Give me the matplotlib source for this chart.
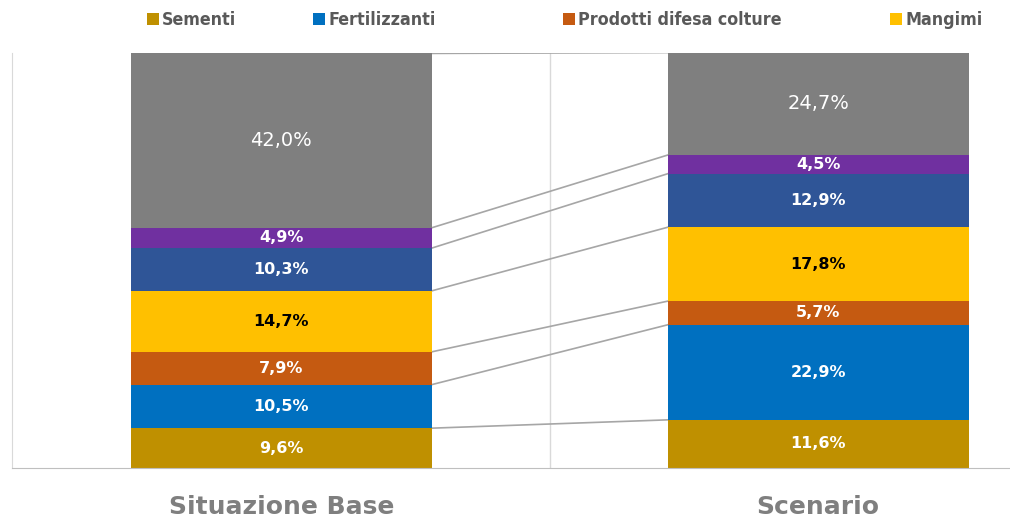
import matplotlib.pyplot as plt

plt.rcParams['font.family'] = ['DejaVu Sans']

categories = ['Situazione Base', 'Scenario']
series = ['Sementi', 'Fertilizzanti', 'Prodotti difesa colture', 'Mangimi',
          'Serie 5', 'Serie 6', 'Serie 7']
base = [9.6, 10.5, 7.9, 14.7, 10.3, 4.9, 42.0]
scenario = [11.6, 22.9, 5.7, 17.8, 12.9, 4.5, 24.7]
labels_base = ['9,6%', '10,5%', '7,9%', '14,7%', '10,3%', '4,9%', '42,0%']
labels_scen = ['11,6%', '22,9%', '5,7%', '17,8%', '12,9%', '4,5%', '24,7%']
colors = ['#BF9000', '#0070C0', '#C55A11', '#FFC000', '#2F5597', '#7030A0', '#7F7F7F']
text_colors = ['white', 'white', 'white', 'black', 'white', 'white', 'white']
legend_x = [147, 313, 563, 890]  # left edge of each visible legend entry, px

fig = plt.figure(figsize=(10.1, 5.19), dpi=100)
# plot area continues past the right edge of the picture
ax = fig.add_axes([12 / 1010, (519 - 468) / 519, 1075.5 / 1010, 415 / 519])

width = 0.561
x = [0, 1]
bottom = [0.0, 0.0]
tops = []
handles = []
for i, name in enumerate(series):
    vals = [base[i], scenario[i]]
    bars = ax.bar(x, vals, width, bottom=bottom, color=colors[i], label=name, zorder=2)
    handles.append(bars)
    for j, b in enumerate(bars):
        lab = [labels_base, labels_scen][j][i]
        big = i == len(series) - 1
        ax.text(b.get_x() + b.get_width() / 2, bottom[j] + vals[j] / 2, lab,
                ha='center', va='center', color=text_colors[i],
                fontsize=14 if big else 11.5, fontweight='normal' if big else 'bold',
                zorder=3)
    bottom = [bottom[0] + vals[0], bottom[1] + vals[1]]
    tops.append(list(bottom))

# series lines connecting the stacks
for t in tops:
    ax.plot([width / 2, 1 - width / 2], t, color='#A6A6A6', lw=1.2, zorder=1)

ax.axvline(0.5, color='#D9D9D9', lw=1, zorder=0)
ax.set_xlim(-0.502, 1.502)
ax.set_ylim(0, 100)
ax.set_yticks([])
ax.set_xticks([])
for s in ['top', 'right']:
    ax.spines[s].set_visible(False)
ax.spines['left'].set_color('#D9D9D9')
ax.spines['bottom'].set_color('#BFBFBF')

for j, cat in enumerate(categories):
    ax.text(x[j], -9.5, cat, ha='center', va='center', fontsize=18, fontweight='bold',
            color='#7F7F7F')

for i, lx in enumerate(legend_x):
    leg = fig.legend(handles=[handles[i]], labels=[series[i]], loc='center left',
                     bbox_to_anchor=(lx / 1010, 1 - 20 / 519), frameon=False,
                     fontsize=12.8, handlelength=0.65, handleheight=0.65, handletextpad=0.2,
                     borderpad=0, borderaxespad=0, labelcolor='#595959')
    for t in leg.get_texts():
        t.set_fontweight('bold')
        t.set_fontstretch('condensed')

plt.savefig('out.png', dpi=100)
